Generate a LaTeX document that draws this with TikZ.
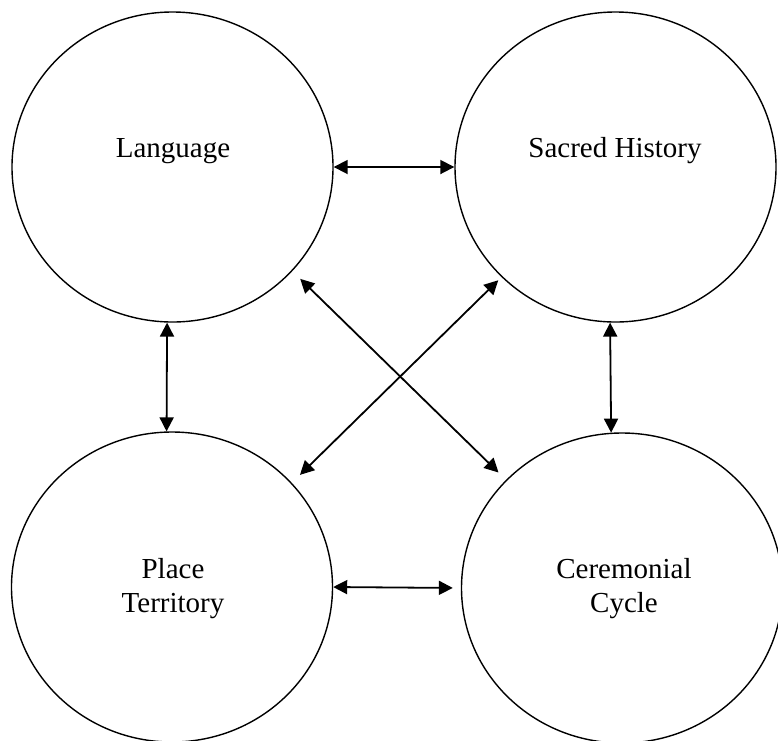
\documentclass[tikz,border=0pt]{standalone}
\usepackage{fontspec}
\setmainfont{Liberation Serif}
\usetikzlibrary{arrows.meta,shapes.geometric}

\begin{document}
\begin{tikzpicture}[x=1pt,y=1pt]
	\tikzstyle{every node}=[font=\fontsize{29}{34}\selectfont]
	\tikzstyle{bubble}=[draw, ellipse, line width=1.4pt, minimum width=321pt, minimum height=310pt, inner sep=0pt]
	\tikzstyle{lbl}=[align=center, inner sep=0pt]
	\tikzstyle{link}=[line width=1.8pt, {Triangle[length=14pt,width=14pt]}-{Triangle[length=14pt,width=14pt]}]
	\useasboundingbox (0,0) rectangle (778,-740);
	% the four circles
	\node [bubble] (lang) at (172.5,-167) {};
	\node [bubble] (sac) at (615.5,-167) {};
	\node [bubble] (place) at (172,-587) {};
	\node [bubble] (cer) at (622,-588) {};
	\node [lbl] (langtxt) at (173,-151) {Language};
	\node [lbl] (sactxt) at (615,-151) {Sacred History};
	\node [lbl] (placetxt) at (173,-589) {Place\\Territory};
	\node [lbl] (certxt) at (624,-589) {Ceremonial\\Cycle};
	% links
	\draw [link] (lang.east) -- (sac.west);
	\draw [link, shorten >=8pt] (place.east) -- (cer.west);
	\draw [link] (lang.268) -- (place.92);
	\draw [link] (sac.268) -- (cer.94.5);
	\draw [link, shorten <=11pt, shorten >=10.5pt] (lang.-41) -- (cer.137);
	\draw [link, shorten <=11.4pt, shorten >=4.5pt] (place.41) -- (sac.224);
\end{tikzpicture}
\end{document}
